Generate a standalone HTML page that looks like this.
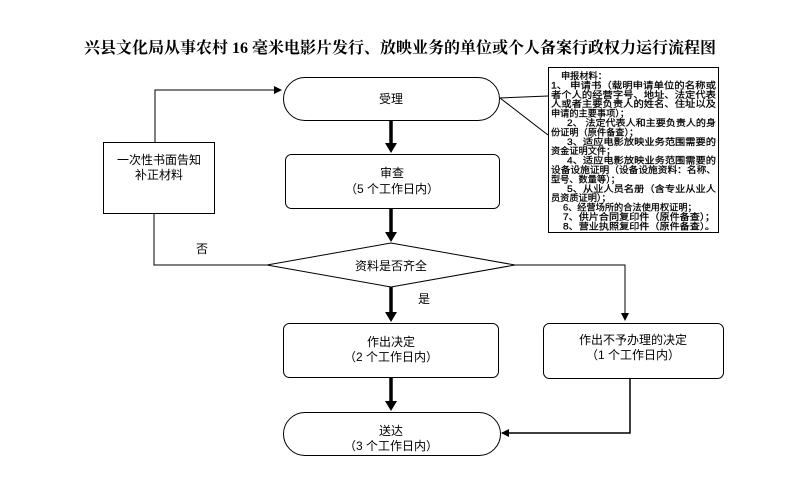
<!DOCTYPE html>
<html><head><meta charset="utf-8"><style>
body{margin:0;background:#fff;}
svg{display:block;}
text{font-family:"Liberation Sans","Noto Sans CJK SC",sans-serif;font-size:12px;fill:#000;}
.t{font-family:"Liberation Serif","Noto Serif CJK SC",serif;font-size:16px;font-weight:bold;}
.s{font-size:9.2px;stroke:#000;stroke-width:0.25;}
</style></head><body>
<svg width="801" height="494" viewBox="0 0 801 494">
<defs>
<marker id="a" markerWidth="8" markerHeight="8" refX="7" refY="4" orient="auto" markerUnits="userSpaceOnUse"><path d="M0,0 L8,4 L0,8z" fill="#000"/></marker>
</defs>
<text class="t" x="400" y="53" text-anchor="middle">兴县文化局从事农村 16 毫米电影片发行、放映业务的单位或个人备案行政权力运行流程图</text>
<g fill="none" stroke="#000" stroke-width="1">
<rect x="283.5" y="77.5" width="216" height="43" rx="21.5" fill="#fff"/>
<rect x="285.5" y="154.5" width="214" height="54" rx="6"/>
<polygon points="267,265 391,243 515,265 391,287"/>
<rect x="103.5" y="142.5" width="111" height="71"/>
<rect x="283.5" y="323.5" width="215" height="54" rx="6"/>
<rect x="543.5" y="323.5" width="180" height="55" rx="6"/>
<rect x="283.5" y="412.5" width="217" height="43" rx="21.5"/>
<rect x="548.5" y="67.5" width="170" height="165"/>
<polyline points="155,142 155,90 281,90" marker-end="url(#a)"/>
<polyline points="154,213 154,265 267,265"/>
<line x1="500" y1="98" x2="548" y2="96"/>
<line x1="500" y1="98" x2="548" y2="135"/>
<polyline points="515,265 625,265 625,320" marker-end="url(#a)"/>
<polyline points="630,378 630,433 502,433" stroke-width="1.5" marker-end="url(#a)"/>
<g stroke-width="3.5">
<line x1="391" y1="120" x2="391" y2="144"/>
<line x1="391" y1="209" x2="391" y2="233"/>
<line x1="391" y1="287" x2="391" y2="313"/>
<line x1="391" y1="378" x2="391" y2="402"/>
</g>
</g>
<g fill="#000">
<path d="M385,143 L397,143 L391,153z"/><path d="M385,232 L397,232 L391,242z"/>
<path d="M385,312 L397,312 L391,322z"/><path d="M385,401 L397,401 L391,411z"/>
</g>
<text x="391" y="103" text-anchor="middle">受理</text>
<text x="392" y="177" text-anchor="middle">审查</text>
<text x="392" y="193" text-anchor="middle">（5 个工作日内）</text>
<text x="391" y="270" text-anchor="middle">资料是否齐全</text>
<text x="159" y="164" text-anchor="middle">一次性书面告知</text>
<text x="159" y="179" text-anchor="middle">补正材料</text>
<text x="202" y="253" text-anchor="middle">否</text>
<text x="424" y="303" text-anchor="middle">是</text>
<text x="391" y="346" text-anchor="middle">作出决定</text>
<text x="391" y="361" text-anchor="middle">（2 个工作日内）</text>
<text x="633" y="344" text-anchor="middle">作出不予办理的决定</text>
<text x="633" y="359" text-anchor="middle">（1 个工作日内）</text>
<text x="391" y="435" text-anchor="middle">送达</text>
<text x="391" y="450" text-anchor="middle">（3 个工作日内）</text>
<text class="s" x="561" y="79">申报材料：</text>
<text class="s" x="551" y="88.4" textLength="165" lengthAdjust="spacingAndGlyphs">1、 申请书（载明申请单位的名称或</text>
<text class="s" x="551" y="97.8" textLength="165" lengthAdjust="spacingAndGlyphs">者个人的经营字号、地址、法定代表</text>
<text class="s" x="551" y="107.2" textLength="165" lengthAdjust="spacingAndGlyphs">人或者主要负责人的姓名、住址以及</text>
<text class="s" x="551" y="116.6">申请的主要事项）；</text>
<text class="s" x="567" y="126" textLength="149" lengthAdjust="spacingAndGlyphs">2、 法定代表人和主要负责人的身</text>
<text class="s" x="551" y="135.4">份证明（原件备查）；</text>
<text class="s" x="567" y="144.8" textLength="149" lengthAdjust="spacingAndGlyphs">3、适应电影放映业务范围需要的</text>
<text class="s" x="551" y="154.2">资金证明文件；</text>
<text class="s" x="567" y="163.6" textLength="149" lengthAdjust="spacingAndGlyphs">4、适应电影放映业务范围需要的</text>
<text class="s" x="551" y="173" textLength="165" lengthAdjust="spacingAndGlyphs">设备设施证明（设备设施资料：名称、</text>
<text class="s" x="551" y="182.4">型号、数量等）；</text>
<text class="s" x="567" y="191.8" textLength="149" lengthAdjust="spacingAndGlyphs">5、从业人员名册（含专业从业人</text>
<text class="s" x="551" y="201.2">员资质证明）；</text>
<text class="s" x="563" y="210.6">6、经营场所的合法使用权证明；</text>
<text class="s" x="563" y="220" textLength="152" lengthAdjust="spacingAndGlyphs">7、供片合同复印件（原件备查）；</text>
<text class="s" x="563" y="229.4" textLength="152" lengthAdjust="spacingAndGlyphs">8、营业执照复印件（原件备查）。</text>
</svg>
</body></html>
